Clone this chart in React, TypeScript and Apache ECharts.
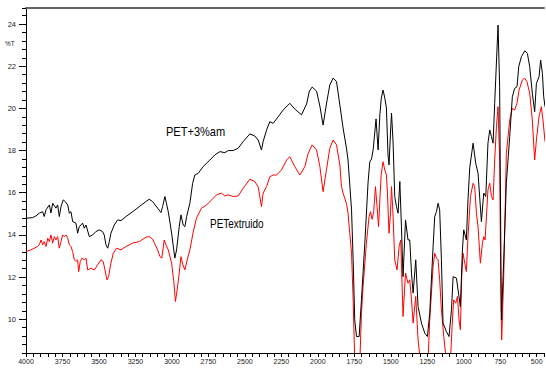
import React, { useEffect, useRef } from "react";
import * as echarts from "echarts";

// PET+3%am (black)
const amWavenumber = [
  4000, 3954, 3932, 3909, 3886, 3875, 3863, 3840, 3829, 3817, 3795, 3783, 3772, 3760, 3745, 3731, 3714, 3703, 3692, 3680,
  3658, 3646, 3635, 3612, 3601, 3589, 3566, 3543, 3521, 3498, 3475, 3464, 3452, 3440, 3429, 3418, 3395, 3372, 3349, 3315,
  3269, 3224, 3178, 3156, 3132, 3098, 3075, 3064, 3048, 3025, 3002, 2980, 2968, 2950, 2938, 2923, 2911, 2899, 2877, 2858,
  2843, 2820, 2786, 2740, 2706, 2671, 2637, 2614, 2580, 2546, 2512, 2466, 2432, 2409, 2386, 2375, 2351, 2329, 2306, 2283,
  2238, 2192, 2158, 2112, 2077, 2058, 2039, 2009, 1986, 1964, 1941, 1918, 1895, 1872, 1849, 1827, 1804, 1793, 1781, 1769,
  1758, 1747, 1735, 1717, 1701, 1678, 1656, 1644, 1632, 1621, 1601, 1587, 1575, 1565, 1553, 1541, 1530, 1519, 1512, 1502,
  1495, 1484, 1473, 1461, 1450, 1438, 1427, 1416, 1399, 1382, 1370, 1358, 1347, 1329, 1313, 1290, 1267, 1249, 1233, 1210,
  1199, 1187, 1176, 1165, 1153, 1142, 1119, 1101, 1084, 1073, 1050, 1039, 1023, 1009, 1000, 982, 971, 959, 936, 918,
  902, 879, 863, 849, 834, 822, 810, 799, 788, 765, 754, 742, 726, 708, 685, 667, 651, 635, 623, 605,
  582, 564, 548, 530, 514, 502, 484, 473, 461, 452, 443,
];
const amTransmittance = [
  14.79, 14.82, 14.9, 15.03, 15.1, 14.87, 15.19, 15.42, 15.04, 15.5, 15.27, 15.42, 14.87, 15.34, 15.66, 15.58, 15.42, 15.03, 15.1, 14.63,
  14.56, 14.08, 14.39, 14.56, 14.32, 14.47, 13.92, 14.0, 14.16, 14.24, 14.16, 14.0, 13.53, 13.37, 13.68, 14.08, 14.47, 14.71, 14.68, 14.87,
  15.1, 15.34, 15.58, 15.69, 15.58, 15.27, 15.06, 15.34, 15.82, 15.1, 14.08, 12.9, 13.29, 14.39, 14.95, 14.47, 14.39, 14.87, 15.5, 16.45,
  16.84, 16.92, 17.24, 17.55, 17.79, 17.95, 17.9, 18.0, 18.0, 18.11, 18.42, 18.79, 18.69, 18.5, 18.03, 18.42, 18.98, 19.37, 19.29, 19.5,
  19.92, 20.24, 19.97, 19.69, 20.21, 20.82, 21.01, 20.82, 20.11, 19.21, 20.21, 21.11, 21.44, 21.27, 20.16, 19.07, 18.12, 17.55, 16.37, 15.19,
  12.82, 9.97, 9.18, 9.18, 10.92, 13.61, 16.46, 17.46, 17.6, 18.03, 19.5, 18.03, 19.69, 20.49, 20.87, 20.49, 20.02, 17.79, 17.32, 18.83,
  19.78, 18.36, 15.82, 15.34, 15.03, 16.53, 14.39, 12.02, 14.71, 13.76, 13.76, 12.19, 11.24, 12.82, 10.6, 9.82, 9.34, 9.18, 10.29, 13.45,
  14.87, 15.1, 15.5, 15.19, 12.82, 9.82, 9.42, 9.18, 10.45, 12.02, 11.95, 11.39, 10.6, 13.29, 14.24, 13.76, 15.66, 17.18, 18.35, 17.4,
  16.92, 14.63, 15.98, 15.82, 18.35, 18.98, 18.66, 18.35, 20.24, 23.95, 21.03, 9.97, 12.82, 16.45, 18.66, 20.55, 20.95, 21.03, 21.98, 22.45,
  22.73, 22.61, 21.98, 20.72, 19.84, 21.19, 21.5, 22.29, 21.66, 20.55, 20.08,
];

// PET extruido (red)
const extWavenumber = [
  4000, 3966, 3943, 3920, 3909, 3897, 3886, 3875, 3863, 3851, 3840, 3829, 3817, 3806, 3795, 3783, 3772, 3760, 3749, 3738,
  3726, 3714, 3703, 3692, 3680, 3669, 3658, 3646, 3639, 3628, 3616, 3601, 3589, 3577, 3555, 3532, 3509, 3486, 3471, 3459,
  3445, 3434, 3418, 3402, 3379, 3349, 3315, 3269, 3224, 3178, 3156, 3132, 3098, 3082, 3069, 3053, 3041, 3025, 3002, 2986,
  2976, 2964, 2950, 2938, 2925, 2911, 2899, 2877, 2854, 2831, 2797, 2762, 2728, 2694, 2660, 2637, 2614, 2580, 2546, 2512,
  2466, 2432, 2409, 2386, 2375, 2351, 2329, 2306, 2283, 2249, 2214, 2192, 2158, 2123, 2089, 2066, 2039, 2009, 1986, 1964,
  1941, 1918, 1895, 1872, 1849, 1838, 1827, 1804, 1793, 1769, 1758, 1747, 1730, 1712, 1701, 1690, 1667, 1649, 1639, 1628,
  1617, 1605, 1594, 1584, 1575, 1566, 1553, 1541, 1530, 1523, 1512, 1502, 1495, 1484, 1473, 1457, 1443, 1432, 1416, 1399,
  1382, 1370, 1358, 1347, 1329, 1313, 1297, 1274, 1245, 1233, 1210, 1199, 1187, 1176, 1165, 1153, 1137, 1119, 1106, 1091,
  1080, 1069, 1055, 1043, 1032, 1023, 1014, 1005, 993, 982, 971, 954, 936, 925, 913, 902, 886, 872, 863, 854,
  834, 822, 810, 799, 788, 776, 765, 754, 747, 740, 726, 708, 685, 667, 651, 635, 621, 598, 582, 567,
  548, 530, 514, 502, 484, 468, 457, 443,
];
const extTransmittance = [
  13.21, 13.29, 13.37, 13.45, 13.53, 13.76, 13.53, 13.68, 13.45, 13.84, 13.68, 14.0, 13.61, 13.92, 13.76, 13.92, 13.37, 13.68, 14.0, 13.92,
  14.0, 13.84, 13.53, 13.45, 13.21, 12.82, 12.74, 12.82, 12.26, 12.74, 12.9, 12.82, 12.9, 12.34, 12.42, 12.34, 12.58, 12.82, 12.74, 12.34,
  11.87, 12.02, 12.66, 13.13, 13.37, 13.29, 13.45, 13.61, 13.68, 13.89, 13.92, 13.8, 13.29, 12.97, 12.9, 13.76, 13.53, 13.29, 12.66, 11.71,
  10.84, 11.39, 12.19, 12.97, 12.58, 12.34, 12.72, 13.29, 14.14, 14.81, 15.27, 15.42, 15.66, 15.9, 15.98, 15.85, 15.9, 15.82, 15.85, 16.21,
  16.64, 16.53, 16.29, 15.34, 15.98, 16.29, 16.76, 16.84, 16.84, 17.08, 17.55, 17.71, 17.24, 16.84, 17.24, 17.87, 18.27, 18.03, 17.24, 16.05,
  17.08, 18.11, 18.5, 18.27, 17.32, 16.29, 15.98, 15.5, 15.03, 13.13, 10.92, 8.0, 7.5, 8.0, 10.29, 11.55, 13.61, 14.87, 15.1, 14.74,
  15.1, 16.29, 15.34, 14.39, 15.66, 16.84, 17.47, 17.08, 16.84, 15.98, 14.08, 15.03, 16.29, 14.87, 12.82, 12.34, 13.45, 13.76, 10.13, 12.19,
  11.71, 11.87, 10.92, 9.82, 11.08, 9.02, 8.0, 7.6, 8.0, 9.97, 12.5, 13.13, 12.9, 12.82, 11.87, 10.45, 9.18, 8.0, 7.7, 8.0,
  9.66, 10.92, 10.76, 11.08, 9.97, 9.5, 12.02, 13.13, 12.66, 12.26, 13.92, 15.82, 16.45, 16.29, 15.03, 14.39, 12.66, 13.61, 13.92, 13.76,
  16.13, 16.45, 15.82, 15.66, 17.55, 19.13, 20.08, 17.55, 12.02, 9.02, 12.02, 17.87, 19.45, 20.0, 19.92, 20.24, 20.87, 21.35, 21.43, 21.27,
  20.72, 19.45, 17.55, 18.5, 19.61, 20.08, 19.45, 18.42,
];

const xLabelValues = [4000, 3750, 3500, 3250, 3000, 2750, 2500, 2250, 2000, 1750, 1500, 1250, 1000, 750, 500];
const yLabelValues = [10, 12, 14, 16, 18, 20, 22, 24];
const seriesNames = ["PET+3%am", "PETextruido"];
const yAxisTitle = "%T";

const FONT = "'Liberation Sans', Arial, sans-serif";

function zip(xs: number[], ys: number[]) {
  return xs.map((x, i) => [x, ys[i]]);
}

export default function App() {
  const ref = useRef<HTMLDivElement>(null);
  useEffect(() => {
    if (!ref.current) return;
    const chart = echarts.init(ref.current, null, { renderer: "svg" });
    const X_MIN = 450;
    const X_MAX = 4000;
    const Y_MIN = 8.4;
    const Y_MAX = 24.76;
    chart.setOption({
      animation: false,
      backgroundColor: "#fff",
      grid: { left: 26, right: 2, top: 8, bottom: 21, containLabel: false, outerBoundsMode: "none" },
      xAxis: [
        {
          type: "value",
          min: X_MIN,
          max: X_MAX,
          interval: 50,
          inverse: true,
          position: "bottom",
          axisLine: { show: true, lineStyle: { color: "#000", width: 1 } },
          axisTick: { show: true, length: 4, lineStyle: { color: "#000", width: 1 } },
          axisLabel: {
            show: true,
            customValues: xLabelValues,
            formatter: (v: number) => (Math.round(v) % 250 === 0 ? String(Math.round(v)) : ""),
            fontSize: 7,
            fontFamily: FONT,
            color: "#222",
            margin: 5,
          },
          splitLine: { show: false },
        },
        {
          type: "value",
          min: X_MIN,
          max: X_MAX,
          inverse: true,
          position: "top",
          axisLine: { show: true, lineStyle: { color: "#666", width: 2 } },
          axisTick: { show: false },
          axisLabel: { show: false },
          splitLine: { show: false },
        },
      ],
      yAxis: [
        {
          type: "value",
          min: Y_MIN,
          max: Y_MAX,
          interval: 0.4,
          position: "left",
          axisLine: { show: true, lineStyle: { color: "#000", width: 1 } },
          axisTick: { show: true, length: 4, lineStyle: { color: "#000", width: 1 } },
          axisLabel: {
            show: true,
            customValues: yLabelValues,
            formatter: (v: number) => {
              const r = Math.round(v);
              return Math.abs(v - r) < 1e-6 && r % 2 === 0 ? String(r) : "";
            },
            fontSize: 7.5,
            fontFamily: FONT,
            color: "#222",
            margin: 10,
          },
          splitLine: { show: false },
        },
        {
          type: "value",
          min: Y_MIN,
          max: Y_MAX,
          position: "left",
          axisLine: { show: false },
          axisTick: { show: true, length: 7, customValues: yLabelValues, lineStyle: { color: "#000", width: 1 } },
          axisLabel: { show: false },
          splitLine: { show: false },
        },
      ],
      series: [
        {
          name: seriesNames[1],
          type: "line",
          xAxisIndex: 0,
          yAxisIndex: 0,
          data: zip(extWavenumber, extTransmittance),
          showSymbol: false,
          symbol: "none",
          clip: true,
          lineStyle: { color: "#ff0000", width: 1 },
          itemStyle: { color: "#ff0000" },
          z: 2,
        },
        {
          name: seriesNames[0],
          type: "line",
          xAxisIndex: 0,
          yAxisIndex: 0,
          data: zip(amWavenumber, amTransmittance),
          showSymbol: false,
          symbol: "none",
          clip: true,
          lineStyle: { color: "#000000", width: 1 },
          itemStyle: { color: "#000000" },
          z: 3,
        },
      ],
      graphic: [
        {
          type: "text",
          left: 5,
          top: 39,
          scaleX: 0.85,
          style: { text: yAxisTitle, font: `7.5px ${FONT}`, fill: "#222" },
        },
        {
          type: "text",
          left: 166,
          top: 125,
          scaleX: 0.85,
          style: { text: seriesNames[0], font: `13px ${FONT}`, fill: "#000" },
        },
        {
          type: "text",
          left: 210,
          top: 217.5,
          scaleX: 0.83,
          style: { text: seriesNames[1], font: `12px ${FONT}`, fill: "#000" },
        },
      ],
    });
    return () => chart.dispose();
  }, []);
  return <div ref={ref} style={{ width: 546, height: 374, position: "absolute", left: 0, top: 0 }} />;
}
